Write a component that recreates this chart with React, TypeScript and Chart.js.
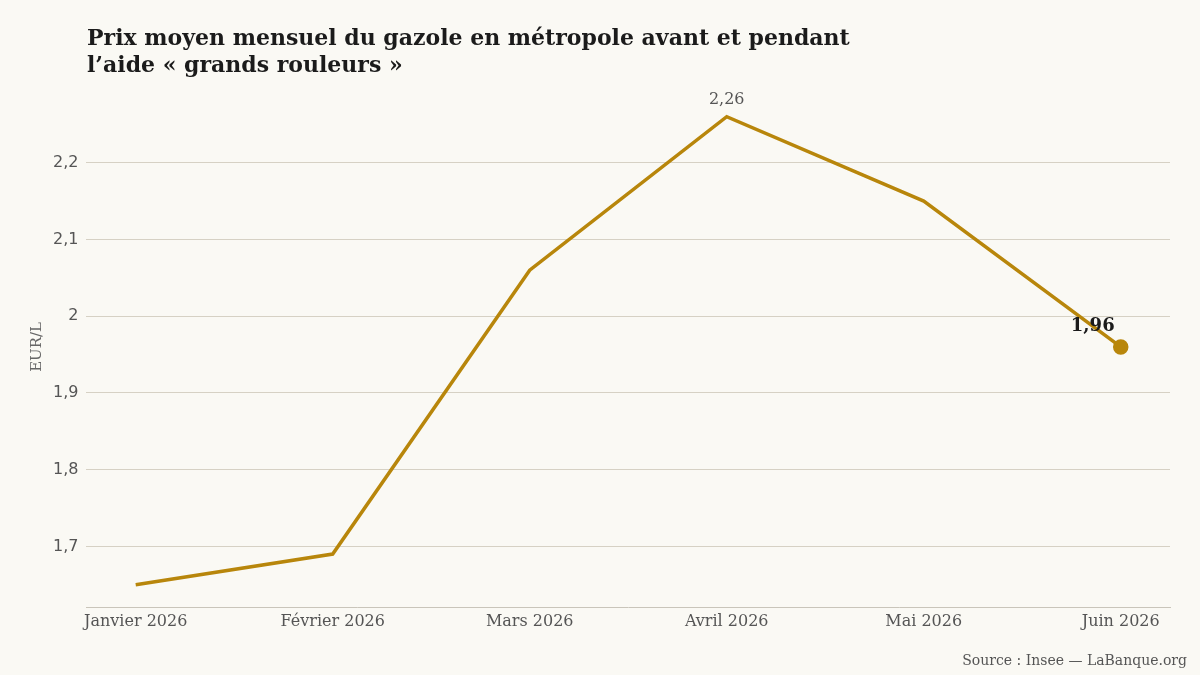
import React, { useEffect, useRef } from "react";
import { Chart, registerables } from "chart.js";
Chart.register(...registerables);

const months = ["Janvier 2026", "Février 2026", "Mars 2026", "Avril 2026", "Mai 2026", "Juin 2026"];
const prices = [1.65, 1.69, 2.06, 2.26, 2.15, 1.96];
const yTicks = [1.7, 1.8, 1.9, 2.0, 2.1, 2.2];
const titleLines = ["Prix moyen mensuel du gazole en métropole avant et pendant", "l’aide « grands rouleurs »"];
const sourceText = "Source : Insee — LaBanque.org";
const yAxisTitle = "EUR/L";

const BG = "#faf9f4";
const LINE = "#b8860b";
const SERIF = "'DejaVu Serif', 'Liberation Serif', serif";
const SANS = "'DejaVu Sans', sans-serif";

const fmt = (v: number, d: number) => v.toFixed(d).replace(".", ",");

export default function App() {
  const ref = useRef<HTMLCanvasElement | null>(null);
  useEffect(() => {
    document.body.style.margin = "0";
    document.body.style.background = BG;
    const last = prices.length - 1;
    const peak = prices.indexOf(Math.max(...prices));
    const deco = {
      id: "deco",
      beforeDraw(chart: any) {
        const c = chart.ctx;
        c.save();
        c.fillStyle = BG;
        c.fillRect(0, 0, chart.width, chart.height);
        c.restore();
      },
      afterDraw(chart: any) {
        const c = chart.ctx;
        c.save();
        c.fillStyle = "#1b1b1b";
        c.font = `bold 22px ${SERIF}`;
        c.textBaseline = "alphabetic";
        c.textAlign = "left";
        c.fillText(titleLines[0], 87, 45);
        c.fillText(titleLines[1], 87, 72);
        c.font = `14px ${SERIF}`;
        c.fillStyle = "#555";
        c.textAlign = "right";
        c.fillText(sourceText, 1187, 665);
        const meta = chart.getDatasetMeta(0);
        const pk = meta.data[peak];
        c.textAlign = "center";
        c.font = `16px ${SERIF}`;
        c.fillStyle = "#555";
        c.fillText(fmt(prices[peak], 2), pk.x, pk.y - 13);
        const lp = meta.data[last];
        c.font = `bold 18px ${SERIF}`;
        c.fillStyle = "#1b1b1b";
        c.fillText(fmt(prices[last], 2), lp.x - 28, lp.y - 16);
        c.restore();
      },
    };
    const chart = new Chart(ref.current!, {
      type: "line",
      data: {
        datasets: [
          {
            data: prices.map((v, i) => ({ x: i, y: v })),
            borderColor: LINE,
            backgroundColor: LINE,
            borderWidth: 3.5,
            pointRadius: prices.map((_, i) => (i === last ? 6 : 0)),
            pointHoverRadius: 0,
            tension: 0,
          },
        ],
      },
      options: {
        animation: false,
        responsive: false,
        events: [],
        layout: { padding: { top: 86, left: 24, right: 30, bottom: 40 } },
        plugins: { legend: { display: false }, tooltip: { enabled: false }, title: { display: false } },
        scales: {
          x: {
            type: "linear",
            min: -0.25,
            max: 5.25,
            afterBuildTicks: (axis: any) => {
              axis.ticks = months.map((_, i) => ({ value: i }));
            },
            grid: { display: false, drawTicks: false },
            border: { display: true, color: "#c9c5ba", width: 1 },
            ticks: {
              callback: (v: any) => months[v] ?? "",
              font: { family: SERIF, size: 16 },
              color: "#555",
              padding: 4,
              maxRotation: 0,
              autoSkip: false,
            },
          },
          y: {
            min: 1.62,
            max: 2.3,
            afterBuildTicks: (axis: any) => {
              axis.ticks = yTicks.map((v) => ({ value: v }));
            },
            grid: { color: "#d6d1c4", drawTicks: false, lineWidth: 1 },
            border: { display: false },
            ticks: {
              callback: (v: any) => String(Math.round(v * 10) / 10).replace(".", ","),
              font: { family: SANS, size: 16 },
              color: "#555",
              padding: 8,
            },
            title: {
              display: true,
              text: yAxisTitle,
              font: { family: SERIF, size: 15 },
              color: "#666",
              padding: { top: 4, bottom: -1 },
            },
          },
        },
      },
      plugins: [deco],
    });
    return () => chart.destroy();
  }, []);
  return (
    <div style={{ width: 1200, height: 675, background: BG }}>
      <canvas ref={ref} width={1200} height={675} />
    </div>
  );
}
